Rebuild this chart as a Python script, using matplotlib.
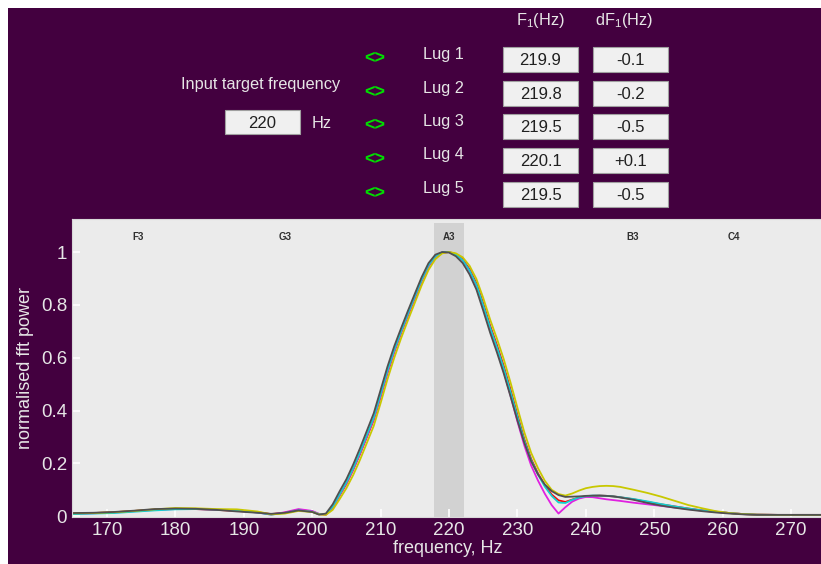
import matplotlib
matplotlib.use("Agg")
import matplotlib.pyplot as plt
from matplotlib.patches import Rectangle

plt.rcParams['font.family'] = ['Liberation Sans', 'DejaVu Sans']
plt.rcParams['mathtext.fontset'] = 'custom'
plt.rcParams['mathtext.rm'] = 'Liberation Sans'
plt.rcParams['mathtext.it'] = 'Liberation Sans'

# ---- data ----
target_hz = 220
lug_names = ["Lug 1", "Lug 2", "Lug 3", "Lug 4", "Lug 5"]
f1_hz = ["219.9", "219.8", "219.5", "220.1", "219.5"]
df1_hz = ["-0.1", "-0.2", "-0.5", "+0.1", "-0.5"]

note_names = ["F3", "G3", "A3", "B3", "C4"]
note_freqs = [174.6, 196.0, 220.0, 246.9, 261.6]

freq = [165, 168, 171, 174, 177, 180, 183, 186, 189, 192, 194, 196, 198, 200,
        201, 202, 203, 204, 205, 206, 207, 208, 209, 210,
        211, 212, 213, 214, 215, 216, 217, 218, 219, 220,
        221, 222, 223, 224, 225, 226, 227, 228, 229, 230,
        231, 232, 233, 234, 235, 236, 237, 238, 239, 240,
        241, 242, 243, 244, 245, 247, 249, 251, 253, 255,
        257, 259, 261, 263, 265, 268, 271, 275]

power_red = [0.010, 0.012, 0.015, 0.020, 0.025, 0.028, 0.027, 0.024, 0.020, 0.015, 0.008, 0.013, 0.024, 0.018,
             0.008, 0.006, 0.032, 0.078, 0.122, 0.176, 0.236, 0.300, 0.365, 0.452,
             0.542, 0.622, 0.694, 0.760, 0.825, 0.890, 0.946, 0.982, 0.998, 1.000,
             0.992, 0.972, 0.935, 0.882, 0.805, 0.722, 0.648, 0.568, 0.478, 0.383,
             0.292, 0.217, 0.162, 0.117, 0.082, 0.060, 0.054, 0.063, 0.070, 0.075,
             0.077, 0.078, 0.077, 0.075, 0.072, 0.064, 0.054, 0.045, 0.037, 0.029,
             0.022, 0.017, 0.012, 0.008, 0.006, 0.005, 0.005, 0.005]

power_magenta = [0.009, 0.011, 0.014, 0.019, 0.024, 0.027, 0.027, 0.025, 0.021, 0.014, 0.006, 0.015, 0.027, 0.020,
                 0.009, 0.006, 0.034, 0.080, 0.125, 0.178, 0.238, 0.303, 0.368, 0.455,
                 0.545, 0.625, 0.697, 0.763, 0.828, 0.892, 0.947, 0.983, 0.998, 1.000,
                 0.990, 0.968, 0.928, 0.872, 0.792, 0.708, 0.630, 0.548, 0.455, 0.358,
                 0.268, 0.192, 0.135, 0.085, 0.042, 0.010, 0.034, 0.055, 0.067, 0.073,
                 0.072, 0.068, 0.064, 0.061, 0.058, 0.051, 0.045, 0.039, 0.033, 0.027,
                 0.021, 0.016, 0.012, 0.008, 0.006, 0.005, 0.005, 0.005]

power_cyan = [0.008, 0.010, 0.012, 0.017, 0.022, 0.026, 0.027, 0.025, 0.021, 0.014, 0.006, 0.012, 0.022, 0.017,
              0.008, 0.007, 0.036, 0.082, 0.128, 0.182, 0.243, 0.308, 0.374, 0.462,
              0.551, 0.630, 0.700, 0.767, 0.832, 0.895, 0.950, 0.984, 0.999, 1.000,
              0.990, 0.969, 0.930, 0.876, 0.798, 0.715, 0.640, 0.560, 0.470, 0.376,
              0.286, 0.212, 0.158, 0.112, 0.077, 0.052, 0.050, 0.062, 0.071, 0.076,
              0.078, 0.078, 0.077, 0.075, 0.072, 0.065, 0.056, 0.046, 0.037, 0.029,
              0.022, 0.017, 0.012, 0.008, 0.006, 0.005, 0.005, 0.005]

power_yellow = [0.011, 0.012, 0.015, 0.020, 0.026, 0.031, 0.030, 0.027, 0.026, 0.018, 0.007, 0.010, 0.020, 0.016,
                0.007, 0.005, 0.024, 0.064, 0.106, 0.156, 0.214, 0.278, 0.342, 0.428,
                0.518, 0.600, 0.674, 0.742, 0.808, 0.874, 0.932, 0.973, 0.995, 1.000,
                0.995, 0.980, 0.948, 0.898, 0.826, 0.745, 0.672, 0.594, 0.505, 0.410,
                0.318, 0.240, 0.182, 0.134, 0.100, 0.084, 0.078, 0.086, 0.097, 0.106,
                0.111, 0.114, 0.115, 0.114, 0.111, 0.100, 0.088, 0.074, 0.058, 0.042,
                0.030, 0.019, 0.012, 0.008, 0.006, 0.005, 0.005, 0.005]

power_gray = [0.012, 0.013, 0.016, 0.021, 0.027, 0.029, 0.028, 0.024, 0.018, 0.013, 0.009, 0.013, 0.022, 0.016,
              0.006, 0.010, 0.045, 0.094, 0.140, 0.196, 0.258, 0.324, 0.390, 0.478,
              0.566, 0.644, 0.712, 0.778, 0.842, 0.905, 0.958, 0.990, 1.000, 0.998,
              0.984, 0.958, 0.915, 0.858, 0.778, 0.695, 0.620, 0.540, 0.452, 0.362,
              0.278, 0.208, 0.158, 0.120, 0.095, 0.080, 0.073, 0.074, 0.075, 0.077,
              0.078, 0.078, 0.077, 0.075, 0.071, 0.062, 0.050, 0.040, 0.032, 0.025,
              0.019, 0.014, 0.010, 0.007, 0.005, 0.005, 0.005, 0.005]

series = [(power_red, "#FF0000"), (power_magenta, "#E020E0"), (power_cyan, "#10D0D0"),
          (power_yellow, "#C8C800"), (power_gray, "#505050")]

PURPLE = "#43003F"
TXT = "#E6E6E6"

W, H = 821, 564
fig = plt.figure(figsize=(W / 100, H / 100), dpi=100, facecolor="white")
fig.patches.append(Rectangle((8 / W, 0), 1, 1 - 8 / H, transform=fig.transFigure,
                             facecolor=PURPLE, edgecolor="none", zorder=-10))


def px(x, y):
    return x / W, 1 - y / H


def box(x0, y0, x1, y1, text):
    fig.patches.append(Rectangle(px(x0, y1), (x1 - x0) / W, (y1 - y0) / H,
                                 transform=fig.transFigure, facecolor="#F0F0F0",
                                 edgecolor="#A0A0A0", lw=0.8))
    fig.text(*px((x0 + x1) / 2, (y0 + y1) / 2 + 1), text, ha="center", va="center",
             fontsize=12, color="#202020")


# ---- control panel ----
fig.text(*px(261, 85), "Input target frequency", ha="center", va="center", fontsize=11.8, color=TXT)
box(225, 110, 300, 134, str(target_hz))
fig.text(*px(322, 123), "Hz", ha="center", va="center", fontsize=11.8, color=TXT)

fig.text(*px(540, 21), r"F$_1$(Hz)", ha="center", va="center", fontsize=11.8, color=TXT)
fig.text(*px(624, 21), r"dF$_1$(Hz)", ha="center", va="center", fontsize=11.8, color=TXT)

row_tops = [47, 81, 114, 148, 182]
for i, name in enumerate(lug_names):
    top = row_tops[i]
    fig.text(*px(375, top + 12), "<>", ha="center", va="center", fontsize=13,
             color="#00E000", fontweight="bold")
    fig.text(*px(443, top + 7), name, ha="center", va="center", fontsize=11.8, color=TXT)
    box(503, top, 578, top + 25, f1_hz[i])
    box(593, top, 668, top + 25, df1_hz[i])

# ---- spectrum axes ----
ax = fig.add_axes([72 / W, 1 - 517 / H, (W - 72) / W + 0.002, (517 - 219) / H])
ax.set_facecolor("#EBEBEB")
ax.axvspan(217.8, 222.2, ymax=0.985, color="#D2D2D2", lw=0, zorder=0)

for vals, col in series:
    ax.plot(freq, vals, color=col, lw=1.3, zorder=2)

for name, f in zip(note_names, note_freqs):
    ax.text(f, 1.055, name, ha="center", va="center", fontsize=7,
            fontweight="bold", color="#303030")

ax.set_xlim(164.9, 274.6)
ax.set_ylim(-0.003, 1.125)
ax.set_xticks([170, 180, 190, 200, 210, 220, 230, 240, 250, 260, 270])
ax.set_yticks([0, 0.2, 0.4, 0.6, 0.8, 1.0])
ax.set_yticklabels(["0", "0.2", "0.4", "0.6", "0.8", "1"])
ax.tick_params(direction="in", length=6, color="white", labelcolor=TXT, labelsize=13.5, width=1.2)
for sp in ax.spines.values():
    sp.set_color("#D8D8D8")
ax.set_xlabel("frequency, Hz", fontsize=13, color=TXT, labelpad=1)
ax.set_ylabel("normalised fft power", fontsize=13, color=TXT, labelpad=5)

fig.savefig("out.png", dpi=100, facecolor=fig.get_facecolor())
